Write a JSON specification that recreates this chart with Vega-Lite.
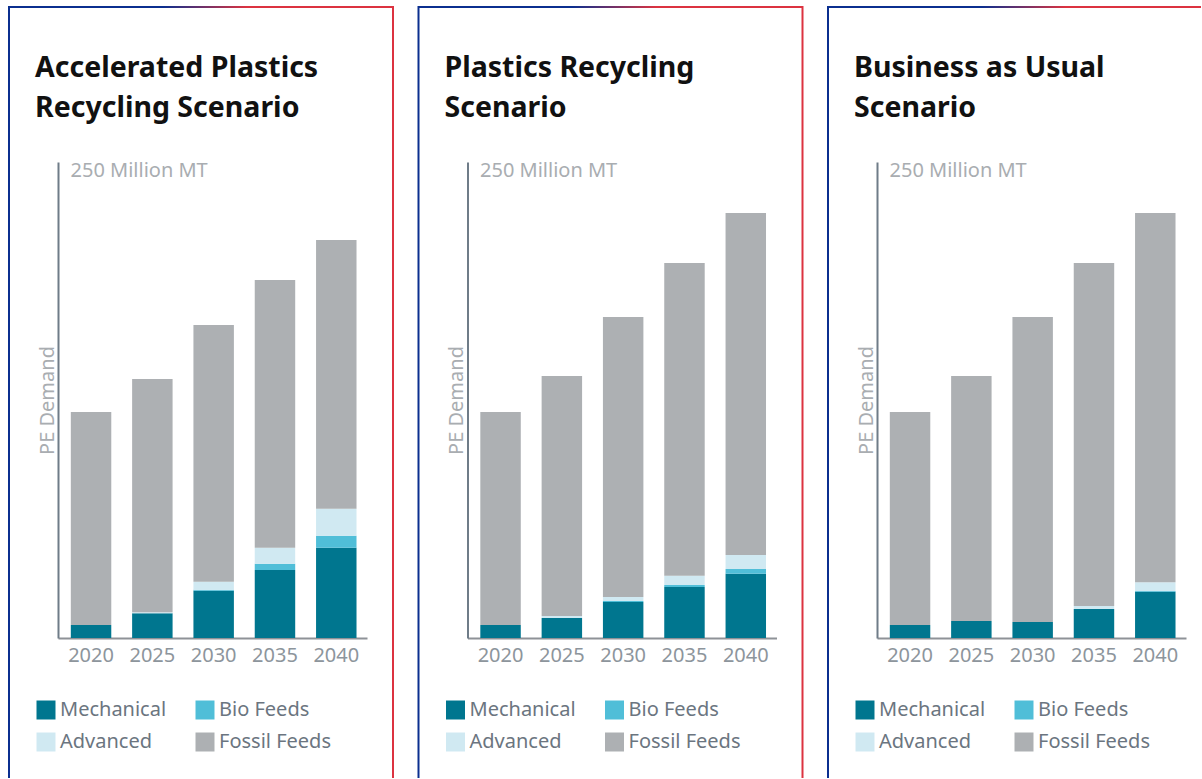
{
  "$schema": "https://vega.github.io/schema/vega-lite/v6.json",
  "background": "white",
  "padding": {"left": 8, "top": 6, "right": 0, "bottom": 0},
  "autosize": {"type": "pad"},
  "bounds": "flush",
  "spacing": 25.5,
  "config": {
    "font": "Noto Sans",
    "view": {"strokeWidth": 2},
    "axis": {"grid": false, "ticks": false, "tickSize": 0, "labelFont": "Noto Sans", "titleFont": "Noto Sans"},
    "legend": {"labelFont": "Noto Sans"}
  },
  "data": {"values": [
    {"scenario": "A", "year": "2020", "series": "Mechanical", "value": 6.8},
    {"scenario": "A", "year": "2020", "series": "Bio Feeds", "value": 0},
    {"scenario": "A", "year": "2020", "series": "Advanced", "value": 0},
    {"scenario": "A", "year": "2020", "series": "Fossil Feeds", "value": 111.9},
    {"scenario": "A", "year": "2025", "series": "Mechanical", "value": 13.0},
    {"scenario": "A", "year": "2025", "series": "Bio Feeds", "value": 0},
    {"scenario": "A", "year": "2025", "series": "Advanced", "value": 0.5},
    {"scenario": "A", "year": "2025", "series": "Fossil Feeds", "value": 122.5},
    {"scenario": "A", "year": "2030", "series": "Mechanical", "value": 24.8},
    {"scenario": "A", "year": "2030", "series": "Bio Feeds", "value": 0.5},
    {"scenario": "A", "year": "2030", "series": "Advanced", "value": 4.3},
    {"scenario": "A", "year": "2030", "series": "Fossil Feeds", "value": 134.8},
    {"scenario": "A", "year": "2035", "series": "Mechanical", "value": 35.7},
    {"scenario": "A", "year": "2035", "series": "Bio Feeds", "value": 3.3},
    {"scenario": "A", "year": "2035", "series": "Advanced", "value": 8.4},
    {"scenario": "A", "year": "2035", "series": "Fossil Feeds", "value": 140.6},
    {"scenario": "A", "year": "2040", "series": "Mechanical", "value": 47.4},
    {"scenario": "A", "year": "2040", "series": "Bio Feeds", "value": 6.3},
    {"scenario": "A", "year": "2040", "series": "Advanced", "value": 14.2},
    {"scenario": "A", "year": "2040", "series": "Fossil Feeds", "value": 141.1},
    {"scenario": "B", "year": "2020", "series": "Mechanical", "value": 6.8},
    {"scenario": "B", "year": "2020", "series": "Bio Feeds", "value": 0},
    {"scenario": "B", "year": "2020", "series": "Advanced", "value": 0},
    {"scenario": "B", "year": "2020", "series": "Fossil Feeds", "value": 111.9},
    {"scenario": "B", "year": "2025", "series": "Mechanical", "value": 10.5},
    {"scenario": "B", "year": "2025", "series": "Bio Feeds", "value": 0},
    {"scenario": "B", "year": "2025", "series": "Advanced", "value": 1.0},
    {"scenario": "B", "year": "2025", "series": "Fossil Feeds", "value": 126.1},
    {"scenario": "B", "year": "2030", "series": "Mechanical", "value": 18.9},
    {"scenario": "B", "year": "2030", "series": "Bio Feeds", "value": 0.5},
    {"scenario": "B", "year": "2030", "series": "Advanced", "value": 2.1},
    {"scenario": "B", "year": "2030", "series": "Fossil Feeds", "value": 147.1},
    {"scenario": "B", "year": "2035", "series": "Mechanical", "value": 26.8},
    {"scenario": "B", "year": "2035", "series": "Bio Feeds", "value": 1.0},
    {"scenario": "B", "year": "2035", "series": "Advanced", "value": 4.9},
    {"scenario": "B", "year": "2035", "series": "Fossil Feeds", "value": 164.3},
    {"scenario": "B", "year": "2040", "series": "Mechanical", "value": 33.8},
    {"scenario": "B", "year": "2040", "series": "Bio Feeds", "value": 2.4},
    {"scenario": "B", "year": "2040", "series": "Advanced", "value": 7.4},
    {"scenario": "B", "year": "2040", "series": "Fossil Feeds", "value": 179.6},
    {"scenario": "C", "year": "2020", "series": "Mechanical", "value": 6.8},
    {"scenario": "C", "year": "2020", "series": "Bio Feeds", "value": 0},
    {"scenario": "C", "year": "2020", "series": "Advanced", "value": 0},
    {"scenario": "C", "year": "2020", "series": "Fossil Feeds", "value": 111.9},
    {"scenario": "C", "year": "2025", "series": "Mechanical", "value": 8.9},
    {"scenario": "C", "year": "2025", "series": "Bio Feeds", "value": 0},
    {"scenario": "C", "year": "2025", "series": "Advanced", "value": 0},
    {"scenario": "C", "year": "2025", "series": "Fossil Feeds", "value": 128.7},
    {"scenario": "C", "year": "2030", "series": "Mechanical", "value": 8.4},
    {"scenario": "C", "year": "2030", "series": "Bio Feeds", "value": 0},
    {"scenario": "C", "year": "2030", "series": "Advanced", "value": 0},
    {"scenario": "C", "year": "2030", "series": "Fossil Feeds", "value": 160.2},
    {"scenario": "C", "year": "2035", "series": "Mechanical", "value": 15.2},
    {"scenario": "C", "year": "2035", "series": "Bio Feeds", "value": 0},
    {"scenario": "C", "year": "2035", "series": "Advanced", "value": 1.6},
    {"scenario": "C", "year": "2035", "series": "Fossil Feeds", "value": 180.2},
    {"scenario": "C", "year": "2040", "series": "Mechanical", "value": 24.3},
    {"scenario": "C", "year": "2040", "series": "Bio Feeds", "value": 0.4},
    {"scenario": "C", "year": "2040", "series": "Advanced", "value": 4.6},
    {"scenario": "C", "year": "2040", "series": "Fossil Feeds", "value": 193.9}
  ]},
  "transform": [{"calculate": "indexof(['Mechanical', 'Bio Feeds', 'Advanced', 'Fossil Feeds'], datum.series)", "as": "stackOrder"}],
  "hconcat": [
    {
      "width": 384, "height": 771,
      "view": {
        "stroke": {"gradient": "linear", "x1": 0, "y1": 0, "x2": 1, "y2": 0, "stops": [{"offset": 0, "color": "#0b2f8f"}, {"offset": 0.4, "color": "#0b2f8f"}, {"offset": 0.62, "color": "#dc3340"}, {"offset": 1, "color": "#dc3340"}]},
        "strokeWidth": 2,
        "strokeDash": [1155, 384, 800, 0]
      },
      "title": {"text": ["Accelerated Plastics", "Recycling Scenario"], "anchor": "start", "frame": "group", "dx": 26, "offset": -115, "baseline": "top", "fontSize": 28.5, "fontWeight": 700, "color": "#111111", "lineHeight": 40, "font": "Noto Sans"},
      "transform": [{"filter": "datum.scenario === 'A'"}],
      "mark": {"type": "bar"},
      "encoding": {
        "x": {"field": "year", "type": "ordinal", "scale": {"range": [49, 358], "paddingInner": 0.34, "paddingOuter": 0.19, "align": 0.55},
          "axis": {"title": null, "offset": -140, "labelPadding": 7, "labelBaseline": "top", "labelFontSize": 20, "labelColor": "#8d959c", "domainColor": "#8e9297", "domainWidth": 2, "labelAngle": 0}},
        "y": {"field": "value", "type": "quantitative", "stack": "zero", "scale": {"domain": [0, 250], "range": [631, 155], "nice": false},
          "axis": {"values": [250], "labelExpr": "'250 Million MT'", "title": "PE Demand", "offset": -49, "labelAlign": "left", "labelBaseline": "top", "labelPadding": -12, "labelOffset": -2, "labelFontSize": 20, "labelColor": "#a9adb1", "titleFontSize": 20, "titleFontWeight": "normal", "titleColor": "#a9adb1", "titlePadding": 1, "domainColor": "#6f7c88", "domainWidth": 2}},
        "order": {"field": "stackOrder", "type": "quantitative", "sort": "ascending"},
        "color": {"field": "series", "type": "nominal",
          "scale": {"domain": ["Mechanical", "Advanced", "Bio Feeds", "Fossil Feeds"], "range": ["#00768f", "#d0e9f2", "#50bed8", "#adb0b3"]},
          "legend": {"title": null, "orient": "none", "legendX": 27, "legendY": 693, "columns": 2, "symbolType": "square", "symbolSize": 361, "symbolStrokeWidth": 0, "symbolOpacity": 1, "labelFontSize": 20, "labelColor": "#6b7580", "labelOffset": 4, "columnPadding": 28, "rowPadding": 12, "padding": 0, "labelLimit": 300}}
      }
    },
    {
      "width": 384, "height": 771,
      "view": {
        "stroke": {"gradient": "linear", "x1": 0, "y1": 0, "x2": 1, "y2": 0, "stops": [{"offset": 0, "color": "#0b2f8f"}, {"offset": 0.4, "color": "#0b2f8f"}, {"offset": 0.62, "color": "#dc3340"}, {"offset": 1, "color": "#dc3340"}]},
        "strokeWidth": 2,
        "strokeDash": [1155, 384, 800, 0]
      },
      "title": {"text": ["Plastics Recycling", "Scenario"], "anchor": "start", "frame": "group", "dx": 26, "offset": -115, "baseline": "top", "fontSize": 28.5, "fontWeight": 700, "color": "#111111", "lineHeight": 40, "font": "Noto Sans"},
      "transform": [{"filter": "datum.scenario === 'B'"}],
      "mark": {"type": "bar"},
      "encoding": {
        "x": {"field": "year", "type": "ordinal", "scale": {"range": [49, 358], "paddingInner": 0.34, "paddingOuter": 0.19, "align": 0.55},
          "axis": {"title": null, "offset": -140, "labelPadding": 7, "labelBaseline": "top", "labelFontSize": 20, "labelColor": "#8d959c", "domainColor": "#8e9297", "domainWidth": 2, "labelAngle": 0}},
        "y": {"field": "value", "type": "quantitative", "stack": "zero", "scale": {"domain": [0, 250], "range": [631, 155], "nice": false},
          "axis": {"values": [250], "labelExpr": "'250 Million MT'", "title": "PE Demand", "offset": -49, "labelAlign": "left", "labelBaseline": "top", "labelPadding": -12, "labelOffset": -2, "labelFontSize": 20, "labelColor": "#a9adb1", "titleFontSize": 20, "titleFontWeight": "normal", "titleColor": "#a9adb1", "titlePadding": 1, "domainColor": "#6f7c88", "domainWidth": 2}},
        "order": {"field": "stackOrder", "type": "quantitative", "sort": "ascending"},
        "color": {"field": "series", "type": "nominal",
          "scale": {"domain": ["Mechanical", "Advanced", "Bio Feeds", "Fossil Feeds"], "range": ["#00768f", "#d0e9f2", "#50bed8", "#adb0b3"]},
          "legend": {"title": null, "orient": "none", "legendX": 27, "legendY": 693, "columns": 2, "symbolType": "square", "symbolSize": 361, "symbolStrokeWidth": 0, "symbolOpacity": 1, "labelFontSize": 20, "labelColor": "#6b7580", "labelOffset": 4, "columnPadding": 28, "rowPadding": 12, "padding": 0, "labelLimit": 300}}
      }
    },
    {
      "width": 373, "height": 771,
      "view": {
        "stroke": {"gradient": "linear", "x1": 0, "y1": 0, "x2": 1, "y2": 0, "stops": [{"offset": 0, "color": "#0b2f8f"}, {"offset": 0.412, "color": "#0b2f8f"}, {"offset": 0.638, "color": "#dc3340"}, {"offset": 1, "color": "#dc3340"}]},
        "strokeWidth": 2,
        "strokeDash": [373, 1144, 800, 0]
      },
      "title": {"text": ["Business as Usual", "Scenario"], "anchor": "start", "frame": "group", "dx": 26, "offset": -115, "baseline": "top", "fontSize": 28.5, "fontWeight": 700, "color": "#111111", "lineHeight": 40, "font": "Noto Sans"},
      "transform": [{"filter": "datum.scenario === 'C'"}],
      "mark": {"type": "bar"},
      "encoding": {
        "x": {"field": "year", "type": "ordinal", "scale": {"range": [49, 358], "paddingInner": 0.34, "paddingOuter": 0.19, "align": 0.55},
          "axis": {"title": null, "offset": -140, "labelPadding": 7, "labelBaseline": "top", "labelFontSize": 20, "labelColor": "#8d959c", "domainColor": "#8e9297", "domainWidth": 2, "labelAngle": 0}},
        "y": {"field": "value", "type": "quantitative", "stack": "zero", "scale": {"domain": [0, 250], "range": [631, 155], "nice": false},
          "axis": {"values": [250], "labelExpr": "'250 Million MT'", "title": "PE Demand", "offset": -49, "labelAlign": "left", "labelBaseline": "top", "labelPadding": -12, "labelOffset": -2, "labelFontSize": 20, "labelColor": "#a9adb1", "titleFontSize": 20, "titleFontWeight": "normal", "titleColor": "#a9adb1", "titlePadding": 1, "domainColor": "#6f7c88", "domainWidth": 2}},
        "order": {"field": "stackOrder", "type": "quantitative", "sort": "ascending"},
        "color": {"field": "series", "type": "nominal",
          "scale": {"domain": ["Mechanical", "Advanced", "Bio Feeds", "Fossil Feeds"], "range": ["#00768f", "#d0e9f2", "#50bed8", "#adb0b3"]},
          "legend": {"title": null, "orient": "none", "legendX": 27, "legendY": 693, "columns": 2, "symbolType": "square", "symbolSize": 361, "symbolStrokeWidth": 0, "symbolOpacity": 1, "labelFontSize": 20, "labelColor": "#6b7580", "labelOffset": 4, "columnPadding": 28, "rowPadding": 12, "padding": 0, "labelLimit": 300}}
      }
    }
  ],
  "resolve": {"scale": {"color": "independent"}, "legend": {"color": "independent"}}
}
